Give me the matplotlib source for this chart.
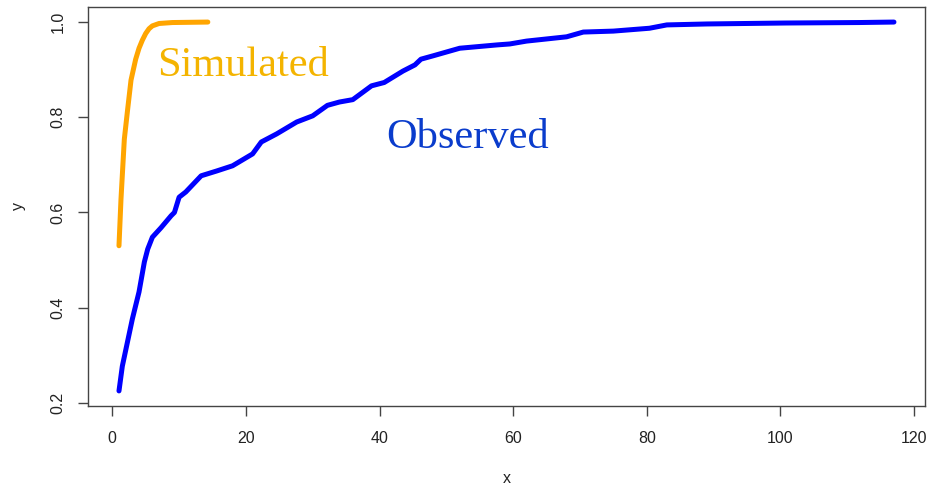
import matplotlib
matplotlib.use('Agg')
import matplotlib.pyplot as plt

# observed curve
obs_x = [1, 1.5, 3, 4, 4.8, 5.3, 6, 7.3, 8.8, 9.3, 10, 11, 13.3, 15.6, 18, 21, 22.3,
         24.6, 27.6, 30, 32.2, 34, 36, 38.8, 40.7, 43.5, 45.3, 46.2, 48, 52, 57.6,
         59.5, 62, 68, 70.5, 75, 80.4, 83, 89, 100.7, 111.8, 117]
obs_y = [0.225, 0.277, 0.376, 0.433, 0.496, 0.523, 0.548, 0.568, 0.593, 0.600, 0.632,
         0.643, 0.677, 0.687, 0.698, 0.723, 0.748, 0.765, 0.790, 0.803, 0.825, 0.832,
         0.837, 0.866, 0.873, 0.897, 0.910, 0.922, 0.929, 0.945, 0.952, 0.954, 0.960,
         0.969, 0.979, 0.981, 0.987, 0.994, 0.996, 0.998, 0.999, 1.0]

# simulated curve
sim_x = [1, 1.3, 1.8, 2.3, 2.8, 3.5, 4.0, 4.5, 5.0, 5.5, 6.0, 7.0, 8.0, 9.0, 14.3]
sim_y = [0.53, 0.628, 0.754, 0.817, 0.878, 0.922, 0.945, 0.962, 0.976, 0.986, 0.992,
         0.997, 0.998, 0.999, 1.0]

x_ticks = [0, 20, 40, 60, 80, 100, 120]
y_ticks = [0.2, 0.4, 0.6, 0.8, 1.0]

axis_grey = '#444444'
sans = ['Liberation Sans', 'DejaVu Sans']
serif = ['Liberation Serif', 'DejaVu Serif']

fig = plt.figure(figsize=(9.4, 4.87), dpi=100)
ax = fig.add_axes([0.0936, 0.167, 0.8904, 0.818])

ax.plot(obs_x, obs_y, color='#0000FF', lw=3.6, solid_capstyle='round', solid_joinstyle='round')
ax.plot(sim_x, sim_y, color='#FFA500', lw=3.6, solid_capstyle='round', solid_joinstyle='round')

# R style 4% padding around the data range
all_x = obs_x + sim_x
all_y = obs_y + sim_y
dx = (max(all_x) - min(all_x)) * 0.04
dy = (max(all_y) - min(all_y)) * 0.04
ax.set_xlim(min(all_x) - dx, max(all_x) + dx)
ax.set_ylim(min(all_y) - dy, max(all_y) + dy)

ax.text(6.7, 0.887, 'Simulated', color='#F4B400', fontsize=30.5, family=serif,
        ha='left', va='baseline')
ax.text(41.0, 0.736, 'Observed', color='#0A3CCC', fontsize=30.5, family=serif,
        ha='left', va='baseline')

ax.set_xticks(x_ticks)
ax.set_xticklabels([str(t) for t in x_ticks], family=sans, fontsize=11.5, color='#222222')
ax.set_yticks(y_ticks)
ax.set_yticklabels(['%.1f' % t for t in y_ticks], family=sans, fontsize=11.5,
                   color='#222222', rotation=90, va='center')
ax.tick_params(axis='both', length=7, width=1, color=axis_grey)
ax.tick_params(axis='x', pad=11)
ax.tick_params(axis='y', pad=9)

for s in ax.spines.values():
    s.set_color(axis_grey)
    s.set_linewidth(1)

ax.set_xlabel('x', family=sans, fontsize=11.5, color='#222222', labelpad=18)
ax.set_ylabel('y', family=sans, fontsize=11.5, color='#222222', labelpad=18)

fig.savefig('out.png', dpi=100)
